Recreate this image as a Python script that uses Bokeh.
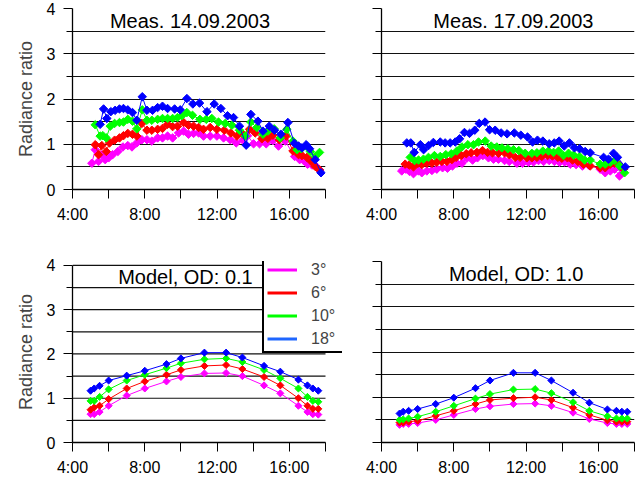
import math
from bokeh.plotting import figure
from bokeh.layouts import column, row
from bokeh.models import FixedTicker, Legend, LegendItem, Range1d
from bokeh.core.properties import value
from bokeh.embed import file_html
from bokeh.resources import INLINE

FONT = "Liberation Sans"
LABEL_FONT = "'Liberation Sans Narrow', 'Liberation Sans'"
NAN = float("nan")

# ---------------- data ----------------
ANGLES = ["3°", "6°", "10°", "18°"]
COLORS = ["#ff00ff", "#ff0000", "#00ff00", "#0000ff"]
LEGEND_COLORS = ["#ff00ff", "#ff0000", "#00ff00", "#1f66ff"]

TITLES = ["Meas. 14.09.2003", "Meas. 17.09.2003", "Model, OD: 0.1", "Model, OD: 1.0"]

X_START, X_END = 4, 18
Y_START, Y_END = 0, 4
X_TICKS = [4, 8, 12, 16]
X_MINOR = [6, 10, 14, 18]
X_LABELS = {4: "4:00", 8: "8:00", 12: "12:00", 16: "16:00"}
Y_TICKS = [0, 1, 2, 3, 4]
Y_MINOR = [0.5, 1.5, 2.5, 3.5]
Y_LABEL = "Radiance ratio"

# Meas. 14.09.2003
m14_t3 = [5.07, 5.26, 5.44, 5.62, 5.81, 6.00, 6.22, 6.51, 6.79, 7.06, 7.29, 7.56, 7.84, 8.12, 8.39, 8.71, 8.98, 9.26,
          9.54, 9.87, 10.15, 10.42, 10.70, 10.98, 11.25, 11.62, 11.99, 12.36, 12.73, 13.06, 13.43, 13.69, 14.02, 14.35,
          14.72, 15.09, 15.40, 15.77, 16.29, 16.57, 16.79, 17.01, 17.25, 17.49, 17.67]
m14_v3 = [0.58, 0.88, 0.62, 0.77, 0.66, 0.70, 0.77, 0.84, 0.94, 0.97, 0.94, 1.03, 1.10, 1.10, 1.07, 1.14, 1.14, 1.18,
          1.14, 1.25, 1.29, 1.22, 1.24, 1.25, 1.18, 1.18, 1.18, 1.14, 1.10, 1.03, 1.09, 1.19, 1.01, 1.01,
          1.01, 1.08, 0.96, 1.07, 0.73, 0.66, 0.64, 0.56, 0.54, 0.51, 0.43]
m14_t6 = [5.26, 5.44, 5.62, 5.87, 6.05, 6.33, 6.60, 6.82, 7.06, 7.32, 7.56, 7.84, 8.12, 8.39, 8.71, 8.98, 9.26, 9.54,
          9.81, 10.15, 10.42, 10.70, 10.98, 11.25, 11.62, 11.99, 12.40, 12.76, 13.10, 13.43, 13.80, 14.11, 14.48,
          14.81, 15.09, 15.44, 15.83, 16.20, 16.51, 16.70, 16.97, 17.21, 17.43, 17.67]
m14_v6 = [0.99, 0.77, 0.97, 0.84, 1.03, 1.09, 1.14, 1.19, 1.24, 1.22, 1.18, 1.46, 1.31, 1.31, 1.33, 1.35, 1.44, 1.39,
          1.40, 1.48, 1.42, 1.40, 1.37, 1.33, 1.37, 1.33, 1.31, 1.25, 1.18, 1.22, 1.33, 1.25, 1.12,
          1.13, 1.20, 1.10, 1.18, 0.85, 0.77, 0.75, 0.71, 0.62, 0.51, 0.43]
m14_t10 = [5.26, 5.53, 5.68, 5.87, 6.09, 6.33, 6.60, 6.82, 7.06, 7.32, 7.56, 7.86, 8.12, 8.39, 8.71, 8.98, 9.26, 9.54,
           9.81, 10.05, 10.33, 10.64, 11.05, 11.40, 11.71, 12.08, 12.45, 12.82, 13.24, 13.56, 13.87, 14.20, 14.54,
           14.81, 15.16, 15.50, 15.86, 16.20, 16.42, 16.66, 16.93, 17.16, 17.43, 17.67]
m14_v10 = [1.43, 1.18, 1.19, 1.14, 1.40, 1.46, 1.48, 1.49, 1.55, 1.51, 1.34, 1.76, 1.53, 1.53, 1.55, 1.57, 1.57, 1.57,
           1.59, 1.63, 1.70, 1.64, 1.55, 1.55, 1.57, 1.49, 1.46, 1.42, 1.31, 1.18, 1.49, 1.37, 1.22,
           1.29, 1.34, 1.14, 1.33, 1.07, 0.88, 0.90, 0.96, 0.84, 0.73, 0.82]
m14_t18 = [5.53, 5.72, 5.90, 6.12, 6.36, 6.60, 6.82, 7.06, 7.32, 7.56, 7.86, 8.12, 8.43, 8.71, 8.98, 9.26, 9.65, 9.96,
           10.33, 10.66, 11.03, 11.44, 11.84, 12.21, 12.58, 12.91, 13.24, 13.61, 13.87, 14.26, 14.54, 14.89, 15.18,
           15.53, 15.92, 16.28, 16.51, 16.70, 16.93, 17.12, 17.43, 17.75]
m14_v18 = [1.44, 1.78, 1.57, 1.72, 1.75, 1.78, 1.79, 1.76, 1.70, 1.53, 2.05, 1.75, 1.75, 1.81, 1.84, 1.79, 1.78, 1.76,
           2.01, 1.89, 1.91, 1.72, 1.89, 1.79, 1.63, 1.59, 1.40, 0.98, 1.66, 1.51, 1.29, 1.40, 1.31,
           1.22, 1.48, 1.02, 0.96, 0.92, 0.99, 0.90, 0.66, 0.37]

# Meas. 17.09.2003
m17_t3 = [5.12, 5.35, 5.55, 5.77, 6.05, 6.23, 6.51, 6.79, 7.06, 7.38, 7.65, 7.93, 8.17, 8.45, 8.72, 9.04, 9.31, 9.61,
          9.92, 10.20, 10.47, 10.81, 11.07, 11.49, 11.80, 12.13, 12.41, 12.69, 12.97, 13.28, 13.57, 13.85, 14.13,
          14.44, 14.77, 15.12, 15.46, 16.10, 16.38, 16.66, 16.90, 17.17, 17.30]
m17_v3 = [0.41, 0.45, 0.40, 0.35, 0.41, 0.37, 0.41, 0.42, 0.45, 0.48, 0.47, 0.52, 0.58, 0.58, 0.69, 0.65, 0.70, 0.75,
          0.70, 0.67, 0.67, 0.64, 0.62, 0.58, 0.58, 0.60, 0.61, 0.64, 0.62, 0.64, 0.62, 0.60, 0.61,
          0.56, 0.55, 0.52, 0.54, 0.45, 0.37, 0.41, 0.45, 0.30, 0.45]
m17_t6 = [5.31, 5.53, 5.77, 6.01, 6.23, 6.51, 6.79, 7.06, 7.34, 7.62, 7.89, 8.13, 8.41, 8.69, 8.96, 9.28, 9.59, 9.87,
          10.14, 10.47, 10.81, 11.07, 11.40, 11.67, 12.04, 12.32, 12.60, 12.87, 13.19, 13.46, 13.76, 13.98, 14.29,
          14.57, 14.87, 15.18, 15.55, 16.10, 16.38, 16.66, 16.90, 17.17, 17.40]
m17_v6 = [0.56, 0.54, 0.50, 0.58, 0.55, 0.58, 0.58, 0.60, 0.62, 0.62, 0.66, 0.71, 0.75, 0.79, 0.81, 0.82, 0.86, 0.82,
          0.81, 0.80, 0.81, 0.77, 0.71, 0.71, 0.70, 0.70, 0.71, 0.73, 0.75, 0.74, 0.71, 0.69, 0.70,
          0.65, 0.62, 0.56, 0.52, 0.48, 0.48, 0.56, 0.58, 0.54, 0.45]
m17_t10 = [5.59, 5.83, 6.05, 6.32, 6.60, 6.93, 7.25, 7.56, 7.86, 8.17, 8.45, 8.78, 9.09, 9.37, 9.74, 10.07, 10.38,
           10.66, 10.99, 11.30, 11.60, 11.95, 12.32, 12.60, 12.93, 13.24, 13.52, 13.80, 14.07, 14.35, 14.63, 14.96,
           15.24, 15.55, 16.10, 16.38, 16.66, 16.90, 17.17, 17.45]
m17_v10 = [0.71, 0.64, 0.65, 0.67, 0.71, 0.75, 0.73, 0.77, 0.79, 0.85, 0.94, 0.99, 0.99, 1.05, 1.07, 0.96, 0.94,
           0.92, 0.90, 0.88, 0.86, 0.80, 0.80, 0.81, 0.85, 0.85, 0.82, 0.85, 0.75, 0.80, 0.76, 0.73,
           0.65, 0.65, 0.56, 0.56, 0.60, 0.64, 0.52, 0.37]
m17_t18 = [5.40, 5.62, 5.81, 6.15, 6.33, 6.60, 6.87, 7.25, 7.52, 7.80, 8.08, 8.32, 8.59, 8.87, 9.16, 9.41, 9.73, 9.98,
           10.29, 10.62, 10.95, 11.35, 11.71, 12.08, 12.36, 12.63, 12.93, 13.28, 13.56, 13.83, 14.11, 14.40, 14.68,
           14.96, 15.27, 15.55, 16.29, 16.56, 16.84, 17.06, 17.49]
m17_v18 = [1.03, 1.03, 0.82, 0.99, 0.88, 0.97, 1.04, 1.05, 1.03, 1.03, 1.05, 1.12, 1.26, 1.24, 1.31, 1.46, 1.49, 1.32,
           1.31, 1.25, 1.23, 1.25, 1.20, 1.16, 1.05, 1.09, 1.07, 1.01, 1.03, 1.07, 0.96, 1.03, 0.92,
           0.90, 0.84, 0.81, 0.71, 0.67, 0.80, 0.71, 0.50]

# Model
model_t = [5.0, 5.2, 5.5, 6.0, 7.0, 8.0, 9.2, 10.0, 11.3, 12.5, 13.4, 14.6, 15.5, 16.5, 17.0, 17.3, 17.6]
od01_v3 = [0.64, 0.64, 0.69, 0.83, 1.06, 1.22, 1.38, 1.48, 1.56, 1.57, 1.50, 1.29, 1.11, 0.83, 0.69, 0.64, 0.63]
od01_v6 = [0.74, 0.79, 0.83, 0.98, 1.22, 1.38, 1.53, 1.64, 1.73, 1.75, 1.66, 1.48, 1.29, 1.00, 0.83, 0.76, 0.76]
od01_v10 = [0.94, 0.94, 1.03, 1.20, 1.40, 1.53, 1.68, 1.79, 1.88, 1.90, 1.82, 1.64, 1.45, 1.22, 1.03, 0.94, 0.92]
od01_v18 = [1.17, 1.22, 1.28, 1.40, 1.51, 1.62, 1.77, 1.90, 2.03, 2.03, 1.92, 1.73, 1.60, 1.42, 1.29, 1.22, 1.17]
od10_v3 = [0.39, 0.41, 0.41, 0.43, 0.50, 0.61, 0.74, 0.80, 0.85, 0.86, 0.81, 0.66, 0.52, 0.43, 0.41, 0.41, 0.41]
od10_v6 = [0.44, 0.44, 0.46, 0.48, 0.59, 0.70, 0.85, 0.94, 0.98, 1.00, 0.94, 0.77, 0.61, 0.49, 0.46, 0.46, 0.46]
od10_v10 = [0.50, 0.51, 0.53, 0.57, 0.68, 0.81, 0.97, 1.07, 1.17, 1.18, 1.09, 0.89, 0.70, 0.58, 0.53, 0.53, 0.53]
od10_v18 = [0.64, 0.68, 0.70, 0.74, 0.85, 0.99, 1.20, 1.37, 1.54, 1.54, 1.37, 1.10, 0.88, 0.73, 0.70, 0.68, 0.68]

PANELS = [
    [(m14_t3, m14_v3), (m14_t6, m14_v6), (m14_t10, m14_v10), (m14_t18, m14_v18)],
    [(m17_t3, m17_v3), (m17_t6, m17_v6), (m17_t10, m17_v10), (m17_t18, m17_v18)],
    [(model_t, od01_v3), (model_t, od01_v6), (model_t, od01_v10), (model_t, od01_v18)],
    [(model_t, od10_v3), (model_t, od10_v6), (model_t, od10_v10), (model_t, od10_v18)],
]

# ---------------- layout (pixels) ----------------
FRAME_W, FRAME_H = 253, 181
LEFT_W, RIGHT_W, PANEL_H = 342, 299, 240
LEFT_BL, RIGHT_BL = 72, 39
TITLE_Y = 3.73


def make_panel(idx, title_x, extend=False):
    left = idx % 2 == 0
    top = idx < 2
    width = LEFT_W if left else RIGHT_W
    bl = LEFT_BL if left else RIGHT_BL
    bt = 8 if top else 21
    bb = PANEL_H - bt - FRAME_H
    if extend:
        # frame reaches the canvas edge (right) and 4px higher so the legend can overhang;
        # the px-per-unit scale stays the same as the other panels
        frame_px = width - bl
        x_range = Range1d(X_START, X_START + frame_px * (X_END - X_START) / FRAME_W)
        br = 0
        bt -= 4
        y_range = Range1d(Y_START, Y_START + (FRAME_H + 4) * (Y_END - Y_START) / FRAME_H)
    else:
        x_range = Range1d(X_START, X_END)
        y_range = Range1d(Y_START, Y_END)
        br = width - bl - FRAME_W
    p = figure(width=width, height=PANEL_H, x_range=x_range, y_range=y_range,
               output_backend="svg", toolbar_location=None,
               min_border_left=bl, min_border_right=br,
               min_border_top=bt, min_border_bottom=bb)
    p.outline_line_color = None
    p.background_fill_color = "white"
    p.border_fill_color = "white"

    xt = FixedTicker(ticks=X_TICKS, minor_ticks=X_MINOR)
    yt = FixedTicker(ticks=Y_TICKS, minor_ticks=Y_MINOR)
    p.xaxis.ticker = xt
    p.yaxis.ticker = yt
    p.ygrid.ticker = yt
    p.xaxis.major_label_overrides = X_LABELS
    p.xaxis.bounds = (X_START, X_END)
    p.yaxis.bounds = (Y_START, Y_END)
    p.xgrid.grid_line_color = None
    grid_color = "#111111"
    if extend:
        p.ygrid.visible = False
        gl = Y_TICKS + Y_MINOR
        p.segment(x0=[X_START] * len(gl), x1=[X_END] * len(gl), y0=gl, y1=gl,
                  line_color=grid_color, line_width=1.2)
    else:
        p.ygrid.grid_line_color = grid_color
        p.ygrid.minor_grid_line_color = grid_color
        p.ygrid.grid_line_width = 1.2
        p.ygrid.minor_grid_line_width = 1.2

    for ax in (p.xaxis[0], p.yaxis[0]):
        ax.axis_line_color = "black"
        ax.axis_line_width = 1.3
        ax.major_tick_line_color = "black"
        ax.minor_tick_line_color = "black"
        ax.major_tick_in = 0
        ax.minor_tick_in = 0
        ax.major_label_text_font = FONT
        ax.major_label_text_font_size = "16px"
        ax.major_label_text_color = "black"
    p.xaxis.major_tick_out = 9
    p.xaxis.minor_tick_out = 9
    p.xaxis.major_label_standoff = 7
    p.yaxis.major_tick_out = 9
    p.yaxis.minor_tick_out = 6
    p.yaxis.major_label_standoff = 8
    if left:
        p.yaxis.axis_label = Y_LABEL
        p.yaxis.axis_label_text_font = LABEL_FONT
        p.yaxis.axis_label_text_font_size = "18px"
        p.yaxis.axis_label_text_font_style = "normal"
        p.yaxis.axis_label_standoff = 8
    else:
        p.yaxis.major_label_overrides = {t: "" for t in Y_TICKS}

    size = 6 if top else 5
    for (t, v), c in zip(PANELS[idx], COLORS):
        p.line(t, v, line_color=c, line_width=1)
        p.scatter(t, v, marker="square", angle=math.pi / 4, size=size,
                  fill_color=c, line_color=c, line_width=1)

    p.text(x=[title_x], y=[TITLE_Y], text=[TITLES[idx]], text_font=value(FONT),
           text_font_size="20px", text_align="center", text_baseline="alphabetic",
           text_color="black")
    return p


p_tl = make_panel(0, 10.5)
p_tr = make_panel(1, 11.3)
p_bl = make_panel(2, 10.25, extend=True)
p_br = make_panel(3, 11.45)

# legend in bottom-left panel (overhangs to the canvas edge)
items = []
for lab, c in zip(ANGLES, LEGEND_COLORS):
    r = p_bl.line(x=[NAN], y=[NAN], line_color=c, line_width=3)
    items.append(LegendItem(label=lab, renderers=[r]))
leg = Legend(items=items, location=(190, 89), orientation="vertical",
             glyph_width=30, glyph_height=19, label_height=19, label_width=40,
             spacing=4, padding=3, margin=0, label_standoff=14,
             label_text_font=FONT, label_text_font_size="16px",
             border_line_color="black", border_line_width=2, border_line_alpha=1.0,
             background_fill_color="white", background_fill_alpha=1.0)
p_bl.add_layout(leg, "center")

layout = column(row(p_tl, p_tr), row(p_bl, p_br))
open("out.html", "w").write(file_html(layout, INLINE))
